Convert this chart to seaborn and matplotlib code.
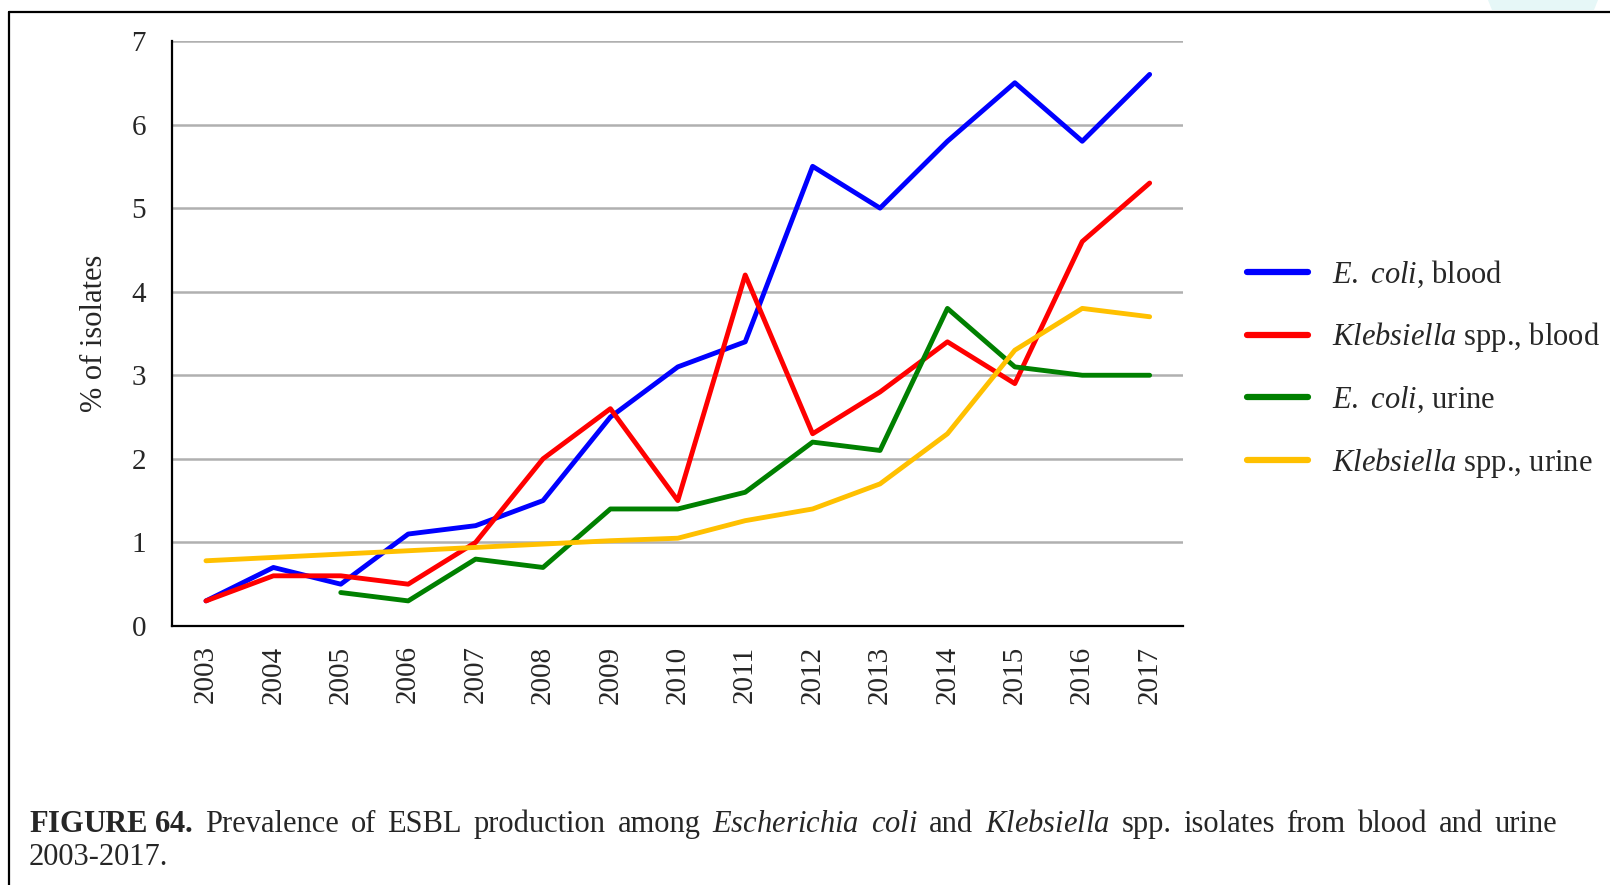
import numpy as np
import pandas as pd
import seaborn as sns
import matplotlib
matplotlib.use("Agg")
import matplotlib.pyplot as plt
from matplotlib.lines import Line2D
from matplotlib.patches import Polygon

years = ["2003", "2004", "2005", "2006", "2007", "2008", "2009", "2010",
         "2011", "2012", "2013", "2014", "2015", "2016", "2017"]
ecoli_blood = [0.3, 0.7, 0.5, 1.1, 1.2, 1.5, 2.5, 3.1, 3.4, 5.5, 5.0, 5.8, 6.5, 5.8, 6.6]
kleb_blood = [0.3, 0.6, 0.6, 0.5, 1.0, 2.0, 2.6, 1.5, 4.2, 2.3, 2.8, 3.4, 2.9, 4.6, 5.3]
ecoli_urine = [np.nan, np.nan, 0.4, 0.3, 0.8, 0.7, 1.4, 1.4, 1.6, 2.2, 2.1, 3.8, 3.1, 3.0, 3.0]
kleb_urine = [0.78, 0.82, 0.86, 0.9, 0.94, 0.98, 1.02, 1.05, 1.26, 1.4, 1.7, 2.3, 3.3, 3.8, 3.7]

series_names = [r"$\mathit{E.}$ $\mathit{coli}$, blood", r"$\mathit{Klebsiella}$ spp., blood",
                r"$\mathit{E.}$ $\mathit{coli}$, urine", r"$\mathit{Klebsiella}$ spp., urine"]
series_values = [ecoli_blood, kleb_blood, ecoli_urine, kleb_urine]
colors = ["#0000ff", "#ff0000", "#008000", "#ffc000"]

caption_words = (r"$\mathbf{FIGURE\ 64.}$ Prevalence of ESBL production among "
                 r"$\mathit{Escherichia}$ $\mathit{coli}$ and $\mathit{Klebsiella}$ spp. isolates "
                 r"from blood and urine")
caption_line2 = "2003-2017."

sns.set_style("white")
plt.rcParams["font.family"] = ["Liberation Serif", "DejaVu Serif"]
plt.rcParams["mathtext.fontset"] = "custom"
plt.rcParams["mathtext.rm"] = "Liberation Serif"
plt.rcParams["mathtext.it"] = "Liberation Serif:italic"
plt.rcParams["mathtext.bf"] = "Liberation Serif:bold"

rows = []
for name, vals in zip(series_names, series_values):
    for i, v in enumerate(vals):
        rows.append({"pos": i, "value": v, "series": name})
df = pd.DataFrame(rows).dropna()

fig = plt.figure(figsize=(16.1, 8.85), dpi=100)
ax = fig.add_axes([0.107, 0.2927, 0.628, 0.661])

sns.lineplot(data=df, x="pos", y="value", hue="series", hue_order=series_names,
             palette=colors, linewidth=3.5, estimator=None, sort=False, ax=ax,
             legend=False)

ax.set_xlim(-0.5, len(years) - 0.5)
ax.set_ylim(0, 7)
ax.set_yticks(range(0, 8))
ax.set_yticklabels([str(v) for v in range(0, 8)], fontsize=21)
ax.set_xticks(range(len(years)))
ax.set_xticklabels(years, rotation=90, fontsize=21)
ax.set_xticks(np.arange(-0.5, len(years) + 0.5, 1.0), minor=True)
ax.tick_params(axis="x", which="major", length=0, pad=14)
ax.tick_params(axis="x", which="minor", length=8, width=1.2, color="black", direction="out")
ax.tick_params(axis="y", which="major", length=9, width=1.5, color="#b0b0b0", pad=10, direction="out")
ax.grid(axis="y", color="#b0b0b0", linewidth=1.8)
ax.grid(axis="x", visible=False)
ax.set_axisbelow(True)
for s in ["top", "right"]:
    ax.spines[s].set_visible(False)
for s in ["left", "bottom"]:
    ax.spines[s].set_color("black")
    ax.spines[s].set_linewidth(1.6)
ax.set_xlabel("")
ax.set_ylabel("% of isolates", fontsize=22, labelpad=16)

handles = [Line2D([0], [0], color=c, lw=4.5, solid_capstyle="round") for c in colors]
fig.legend(handles, series_names, loc="center left", bbox_to_anchor=(0.765, 0.583),
           frameon=False, fontsize=22, handlelength=2.0, handletextpad=0.8,
           labelspacing=1.0, borderpad=0)

# caption, justified across the text width
fig.canvas.draw()
renderer = fig.canvas.get_renderer()
cap_fs = 22
x_left, x_right = 29 / 1610, 1557 / 1610
y_base1 = 1 - 832 / 885
tokens = []
buf = ""
inmath = False
for ch in caption_words:
    if ch == "$":
        inmath = not inmath
    if ch == " " and not inmath:
        if buf:
            tokens.append(buf)
        buf = ""
    else:
        buf += ch
if buf:
    tokens.append(buf)
texts = [fig.text(0, y_base1, t, fontsize=cap_fs, ha="left", va="baseline") for t in tokens]
widths = [t.get_window_extent(renderer).width / fig.bbox.width for t in texts]
gap = (x_right - x_left - sum(widths)) / (len(texts) - 1)
x = x_left
for t, w in zip(texts, widths):
    t.set_x(x)
    x += w + gap
fig.text(x_left, 1 - 865 / 885, caption_line2, fontsize=cap_fs, ha="left", va="baseline")

# border
fig.add_artist(Line2D([8.5 / 1610, 8.5 / 1610], [0, 1 - 11.5 / 885], color="black", lw=1.6,
                      transform=fig.transFigure))
fig.add_artist(Line2D([8.5 / 1610, 1], [1 - 11.5 / 885, 1 - 11.5 / 885], color="black", lw=1.6,
                      transform=fig.transFigure))
fig.add_artist(Polygon([[1488 / 1610, 1], [1598 / 1610, 1], [1594 / 1610, 1 - 10 / 885],
                        [1492 / 1610, 1 - 10 / 885]], closed=True, facecolor="#e6f7f7",
                       edgecolor="none", transform=fig.transFigure))

fig.savefig("out.png", dpi=100)
